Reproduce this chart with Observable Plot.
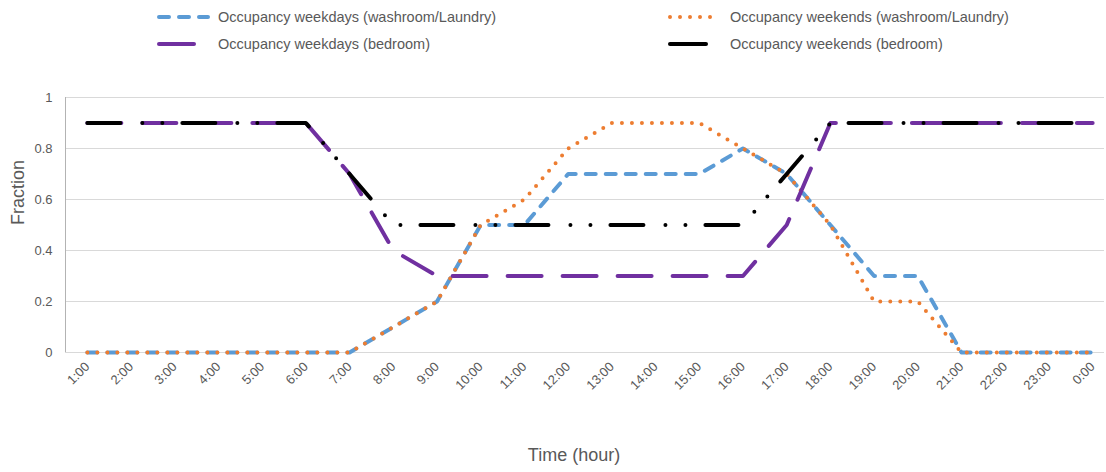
<!DOCTYPE html>
<html>
<head>
<meta charset="utf-8">
<script src="https://cdn.jsdelivr.net/npm/d3@7"></script>
<script src="https://cdn.jsdelivr.net/npm/@observablehq/plot@0.6"></script>
<style>
  body { margin: 0; background: #fff; font-family: "Liberation Sans", Arial, sans-serif; }
  #wrap { position: relative; width: 1106px; height: 472px; }
  #legend { position: relative; height: 60px; width: 1106px; }
  .item { position: absolute; display: flex; align-items: center; height: 20px; }
  .item svg { display: block; }
  .item span { font-size: 14.5px; color: #595959; white-space: nowrap; }
</style>
</head>
<body>
<div id="wrap">
  <div id="legend"></div>
  <div id="chart"></div>
</div>
<script>
// Hour labels along the category axis
const hourLabels = ["1:00","2:00","3:00","4:00","5:00","6:00","7:00","8:00","9:00","10:00","11:00","12:00",
  "13:00","14:00","15:00","16:00","17:00","18:00","19:00","20:00","21:00","22:00","23:00","0:00"];
const hours = hourLabels.map((_, i) => i + 1);

// Occupancy fractions per hour
const weekdaysWashroom = [0,0,0,0,0,0,0,0.1,0.2,0.5,0.5,0.7,0.7,0.7,0.7,0.8,0.7,0.5,0.3,0.3,0,0,0,0];
const weekendsWashroom = [0,0,0,0,0,0,0,0.1,0.2,0.5,0.6,0.8,0.9,0.9,0.9,0.8,0.7,0.5,0.2,0.2,0,0,0,0];
const weekdaysBedroom  = [0.9,0.9,0.9,0.9,0.9,0.9,0.7,0.4,0.3,0.3,0.3,0.3,0.3,0.3,0.3,0.3,0.5,0.9,0.9,0.9,0.9,0.9,0.9,0.9];
const weekendsBedroom  = [0.9,0.9,0.9,0.9,0.9,0.9,0.7,0.5,0.5,0.5,0.5,0.5,0.5,0.5,0.5,0.5,0.7,0.9,0.9,0.9,0.9,0.9,0.9,0.9];

const yTicks = [0, 0.2, 0.4, 0.6, 0.8, 1];
const yTickLabels = ["0", "0.2", "0.4", "0.6", "0.8", "1"];

const seriesNames = [
  "Occupancy weekdays (washroom/Laundry)",
  "Occupancy weekends (washroom/Laundry)",
  "Occupancy weekdays (bedroom)",
  "Occupancy weekends (bedroom)"
];

const styles = [
  {stroke: "#5B9BD5", strokeWidth: 4, strokeDasharray: "10 10"},
  {stroke: "#ED7D31", strokeWidth: 4, strokeDasharray: "0 10"},
  {stroke: "#7030A0", strokeWidth: 4, strokeDasharray: "34 21"},
  {stroke: "#000000", strokeWidth: 4, strokeDasharray: "33 22 0 20 0 20"}
];
const seriesValues = [weekdaysWashroom, weekendsWashroom, weekdaysBedroom, weekendsBedroom];

// Legend (two rows, two columns); the long-dash swatches show a single dash
const legendPlaces = [
  {left: 157, top: 7, len: 53, dash: "10 10"},
  {left: 668, top: 7, len: 54, dash: "0 10"},
  {left: 157, top: 34, len: 39, dash: "none"},
  {left: 668, top: 34, len: 40, dash: "none"}
];
const legend = document.getElementById("legend");
seriesNames.forEach((name, i) => {
  const p = legendPlaces[i], s = styles[i];
  const div = document.createElement("div");
  div.className = "item";
  div.style.left = p.left + "px";
  div.style.top = p.top + "px";
  div.innerHTML =
    `<svg width="${i % 2 === 0 ? 61 : 62}" height="20">` +
    `<line x1="2" x2="${p.len - 2}" y1="10" y2="10" stroke="${s.stroke}" stroke-width="4" ` +
    `stroke-linecap="round" stroke-dasharray="${p.dash}"/></svg><span>${name}</span>`;
  legend.appendChild(div);
});

const chart = Plot.plot({
  width: 1106,
  height: 412,
  marginTop: 37,
  marginBottom: 120,
  marginLeft: 65,
  marginRight: 2,
  style: {fontFamily: "'Liberation Sans', Arial, sans-serif", background: "transparent", overflow: "hidden"},
  x: {type: "linear", domain: [0.5, 24.5], range: [65, 1114]},
  y: {domain: [0, 1]},
  marks: [
    Plot.ruleY(yTicks, {stroke: "#d9d9d9", strokeWidth: 1}),
    Plot.ruleX([0.5], {y1: 0, y2: 1, stroke: "#b3b3b3", strokeWidth: 1}),
    Plot.axisY({ticks: yTicks, tickFormat: (d) => yTickLabels[yTicks.indexOf(d)], tickSize: 0, tickPadding: 13,
      fontSize: 13, fill: "#595959", label: null}),
    Plot.axisX({ticks: hours, tickFormat: (d) => hourLabels[d - 1], tickSize: 0, tickPadding: 12,
      tickRotate: -45, fontSize: 13, fill: "#595959", label: null}),
    ...seriesValues.map((vals, i) => Plot.lineY(vals, {
      x: hours,
      ...styles[i],
      strokeLinecap: "round",
      strokeLinejoin: "round"
    })),
    Plot.text(["Fraction"], {frameAnchor: "left", dx: -47, rotate: -90, fontSize: 18, fill: "#595959"}),
    Plot.text(["Time (hour)"], {frameAnchor: "bottom", dx: -11, dy: 108, fontSize: 18, fill: "#595959"})
  ]
});
document.getElementById("chart").appendChild(chart);
</script>
</body>
</html>
